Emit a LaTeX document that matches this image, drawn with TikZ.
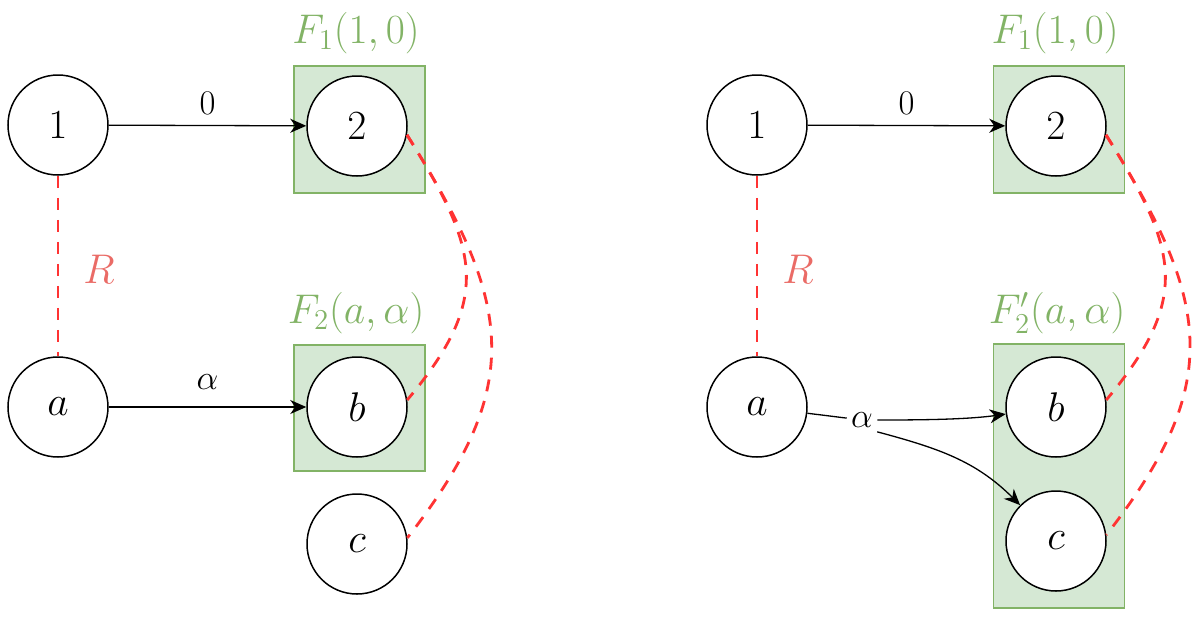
\documentclass[tikz,border=0pt]{standalone}
\usepackage{tikz}
\usetikzlibrary{arrows.meta}
\definecolor{boxfill}{HTML}{D5E8D4}
\definecolor{boxline}{HTML}{82B366}
\definecolor{relline}{HTML}{FF3333}
\definecolor{rellabel}{HTML}{EA6B66}
\tikzstyle{state} = [circle, minimum size=50pt, inner sep=0pt, draw=black, fill=white, line width=0.75pt, font=\fontsize{20}{24}\selectfont]
\tikzstyle{block} = [rectangle, minimum width=65.5pt, inner sep=0pt, draw=boxline, fill=boxfill, line width=0.6pt]
\tikzstyle{blocklabel} = [text=boxline, font=\fontsize{20}{24}\selectfont]
\tikzstyle{edge} = [line width=0.65pt, ->, >={Stealth[length=8pt, width=7pt, inset=2.5pt]}]
\tikzstyle{edgelabel} = [font=\fontsize{16}{19}\selectfont]
\tikzstyle{relation} = [relline, line width=1.4pt, dash pattern=on 6pt off 5pt]

\begin{document}
\begin{tikzpicture}[x=0.5pt, y=-0.5pt]
\useasboundingbox (0,0) rectangle (1201,618);

% left: boxes
\node (lbox1) [block, minimum height=63.5pt] at (359.5,129.5) {};
\node (lbox2) [block, minimum height=63pt] at (359.5,408) {};
\node (lf1) [blocklabel] at (356,33) {$F_1(1,0)$};
\node (lf2) [blocklabel] at (356,313) {$F_2(a,\alpha)$};

% left: states
\node (l1) [state] at (58,125) {$1$};
\node (l2) [state] at (357,126) {$2$};
\node (la) [state] at (58,407) {$a$};
\node (lb) [state] at (357,407) {$b$};
\node (lc) [state] at (357,544) {$c$};
\node (lr) [text=rellabel, font=\fontsize{20}{24}\selectfont] at (99,269) {$R$};

\draw [edge] (l1) -- node[edgelabel, yshift=11pt]{$0$} (l2);
\draw [edge] (la) -- node[edgelabel, yshift=12.5pt]{$\alpha$} (lb);
\draw [relation] (l1) -- (la);
\draw [relation] (l2.-10) to[out=-58, in=50, looseness=1.3] (lb.8);
\draw [relation] (l2.-10) to[out=-58, in=52, looseness=1.25] (lc.7);

% right: boxes
\node (rbox1) [block, minimum height=63.5pt] at (1059,129.5) {};
\node (rbox2) [block, minimum height=132pt] at (1059,476) {};
\node (rf1) [blocklabel] at (1055,33) {$F_1(1,0)$};
\node (rf2) [blocklabel] at (1057,313) {$F_2'(a,\alpha)$};

% right: states
\node (r1) [state] at (757,125) {$1$};
\node (r2) [state] at (1056,126) {$2$};
\node (ra) [state] at (757,407) {$a$};
\node (rb) [state] at (1056,407) {$b$};
\node (rc) [state] at (1056,541) {$c$};
\node (rr) [text=rellabel, font=\fontsize{20}{24}\selectfont] at (798,269) {$R$};
\node (ral) [edgelabel, inner sep=2pt] at (862,420) {$\alpha$};

\draw [edge] (r1) -- node[edgelabel, yshift=11pt]{$0$} (r2);
\draw [line width=0.65pt] (ra) -- (ral);
\draw [edge] (ral.east) to[out=0, in=188, looseness=0.8] (rb);
\draw [edge] (ral.south east) to[out=-15, in=135] (rc.135);
\draw [relation] (r1) -- (ra);
\draw [relation] (r2.-10) to[out=-58, in=50, looseness=1.3] (rb.8);
\draw [relation] (r2.-10) to[out=-58, in=52, looseness=1.25] (rc.7);

\end{tikzpicture}
\end{document}
